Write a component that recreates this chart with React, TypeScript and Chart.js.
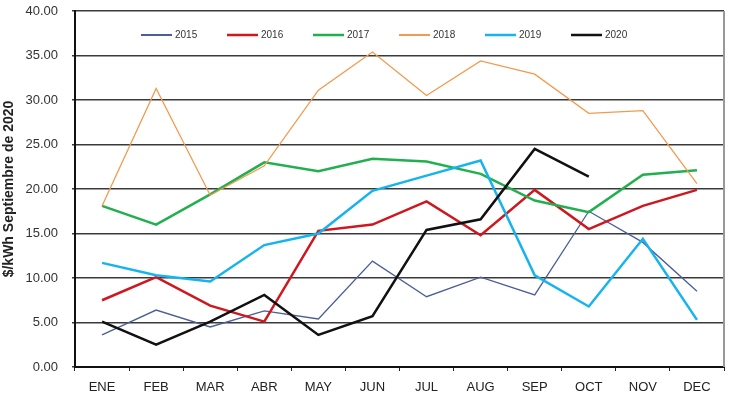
import React, { useEffect, useRef } from "react";
import { Chart, registerables } from "chart.js";

Chart.register(...registerables);

const months = ["ENE", "FEB", "MAR", "ABR", "MAY", "JUN", "JUL", "AUG", "SEP", "OCT", "NOV", "DEC"];
const yTicks = [0, 5, 10, 15, 20, 25, 30, 35, 40];

const s2015 = [3.6, 6.4, 4.5, 6.3, 5.4, 11.9, 7.9, 10.1, 8.1, 17.5, 14.0, 8.5];
const s2016 = [7.5, 10.1, 6.9, 5.1, 15.3, 16.0, 18.6, 14.8, 19.9, 15.5, 18.1, 19.9];
const s2017 = [18.1, 16.0, 19.4, 23.0, 22.0, 23.4, 23.1, 21.7, 18.7, 17.4, 21.6, 22.1];
const s2018 = [18.1, 31.3, 19.3, 22.6, 31.1, 35.4, 30.5, 34.4, 32.9, 28.5, 28.8, 20.6];
const s2019 = [11.7, 10.3, 9.6, 13.7, 15.0, 19.8, 21.5, 23.2, 10.3, 6.8, 14.4, 5.3];
const s2020 = [5.1, 2.5, 5.1, 8.1, 3.6, 5.7, 15.4, 16.6, 24.5, 21.4];

const seriesNames = ["2015", "2016", "2017", "2018", "2019", "2020"];
const seriesData = [s2015, s2016, s2017, s2018, s2019, s2020];
const seriesColors = ["#4b5e99", "#d0161e", "#22b04f", "#f29a4f", "#16b4ee", "#111111"];
const seriesWidths = [1.3, 2.5, 2.5, 1.3, 2.5, 2.5];

const FONT = "'Liberation Sans', Arial, sans-serif";

const legendPlugin = {
  id: "insideLegend",
  afterDraw(chart: any) {
    const { ctx, chartArea } = chart;
    ctx.save();
    ctx.font = `10px ${FONT}`;
    ctx.textBaseline = "middle";
    ctx.fillStyle = "#333";
    const y = chartArea.top + 24;
    chart.data.datasets.forEach((ds: any, i: number) => {
      const x = chartArea.left + 66 + i * 86;
      ctx.beginPath();
      ctx.strokeStyle = ds.borderColor;
      ctx.lineWidth = Math.max(ds.borderWidth, 2);
      ctx.moveTo(x, y);
      ctx.lineTo(x + 31, y);
      ctx.stroke();
      ctx.fillText(ds.label, x + 34, y);
    });
    ctx.restore();
  },
};

const borderPlugin = {
  id: "rightBorder",
  afterDatasetsDraw(chart: any) {
    const { ctx, chartArea } = chart;
    ctx.save();
    ctx.strokeStyle = "#999";
    ctx.lineWidth = 2;
    ctx.beginPath();
    ctx.moveTo(chartArea.right, chartArea.top);
    ctx.lineTo(chartArea.right, chartArea.bottom);
    ctx.stroke();
    ctx.restore();
  },
};

export default function App() {
  const ref = useRef<HTMLCanvasElement>(null);
  useEffect(() => {
    document.body.style.margin = "0";
    const chart = new Chart(ref.current!, {
      type: "line",
      data: {
        labels: months,
        datasets: seriesNames.map((name, i) => ({
          label: name,
          data: seriesData[i],
          borderColor: seriesColors[i],
          backgroundColor: seriesColors[i],
          borderWidth: seriesWidths[i],
          pointRadius: 0,
          tension: 0,
          fill: false,
          order: seriesNames.length - i,
        })),
      },
      options: {
        responsive: false,
        animation: false,
        layout: { padding: { top: 11, right: 9, left: 0, bottom: 0 } },
        plugins: { legend: { display: false }, tooltip: { enabled: false } },
        scales: {
          x: {
            offset: true,
            grid: { drawOnChartArea: false, offset: true, tickLength: 4, color: "#222", lineWidth: 1 },
            border: { color: "#111", width: 2 },
            ticks: { color: "#222", font: { family: FONT, size: 13 }, padding: 9, maxRotation: 0, autoSkip: false },
            afterFit: (s: any) => { s.height = 27; s.paddingLeft = 0; s.paddingRight = 0; },
          },
          y: {
            min: 0,
            max: 40,
            afterBuildTicks: (s: any) => { s.ticks = yTicks.map((v) => ({ value: v })); },
            grid: { color: "#3a3a3a", lineWidth: 1.5, tickLength: 3 },
            border: { color: "#111", width: 2 },
            ticks: {
              color: "#333",
              font: { family: FONT, size: 13 },
              padding: 14,
              callback: (v: any) => Number(v).toFixed(2),
            },
            title: {
              display: true,
              text: "$/kWh Septiembre de 2020",
              color: "#222",
              font: { family: FONT, size: 14, weight: "bold" },
              padding: { top: 1, bottom: 0 },
            },
            afterFit: (s: any) => { s.width = 75; s.paddingTop = 0; s.paddingBottom = 0; },
          },
        },
      },
      plugins: [legendPlugin, borderPlugin],
    });
    return () => chart.destroy();
  }, []);
  return (
    <div style={{ width: 733, height: 394 }}>
      <canvas ref={ref} width={733} height={394} />
    </div>
  );
}
